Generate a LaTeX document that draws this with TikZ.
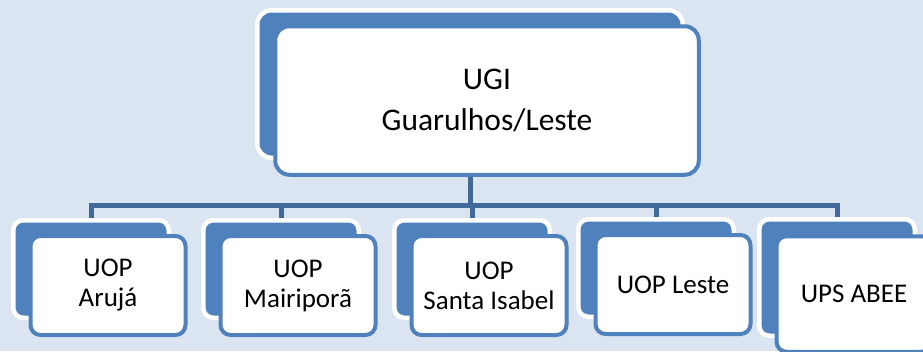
\documentclass[tikz,border=0pt]{standalone}
\usepackage{fontspec}
\setmainfont{Carlito}
\usetikzlibrary{backgrounds}

\definecolor{pagebg}{HTML}{DBE5F1}
\definecolor{boxblue}{HTML}{4F81BD}
\definecolor{connblue}{HTML}{41699A}

\begin{document}
\begin{tikzpicture}[
    x=1pt, y=-1pt,
    backbox/.style={draw=white, line width=4.5pt, fill=boxblue, rounded corners=10pt,
        minimum width=155.5pt, minimum height=97.5pt, inner sep=0pt},
    frontbox/.style={draw=boxblue, line width=4pt, fill=white, rounded corners=10pt,
        minimum width=155pt, minimum height=99pt, inner sep=0pt, align=center,
        font=\fontsize{27}{30}\selectfont},
    conn/.style={draw=connblue, line width=5pt}
]
\useasboundingbox (0,0) rectangle (923,351);

% Top unit
\node[backbox, minimum width=425.5pt, minimum height=147.5pt, rounded corners=14pt] (ugiback) at (470,84) {};
\node[frontbox, minimum width=423.5pt, minimum height=148.5pt, rounded corners=14pt,
    font=\fontsize{31.5}{41}\selectfont] (ugi) at (487,100.5) {UGI\\Guarulhos/Leste};

% Operating units
\node[backbox] (arujaback) at (91,269) {};
\node[frontbox] (aruja) at (108,285.5) {UOP\\Arujá};

\node[backbox] (mairiporaback) at (281,269) {};
\node[frontbox] (mairipora) at (298,285.5) {UOP\\Mairiporã};

\node[backbox] (isabelback) at (472,269) {};
\node[frontbox] (isabel) at (489,285.5) {UOP\\Santa Isabel};

\node[backbox] (lesteback) at (656,268) {};
\node[frontbox] (leste) at (673,284.5) {UOP Leste};

\node[backbox, minimum height=116.5pt] (abeeback) at (837,277.5) {};
\node[frontbox, minimum height=115.5pt] (abee) at (854,294) {UPS ABEE};

% Bus line
\coordinate (bus) at (0,205.5);

\begin{pgfonlayer}{background}
\fill[pagebg] (0,0) rectangle (923,351);
\foreach \unit in {arujaback, mairiporaback, isabelback, lesteback, abeeback}
    \draw[conn] (ugiback.south) -- (ugiback.south |- bus) -| (\unit.north);
\end{pgfonlayer}

\end{tikzpicture}
\end{document}
